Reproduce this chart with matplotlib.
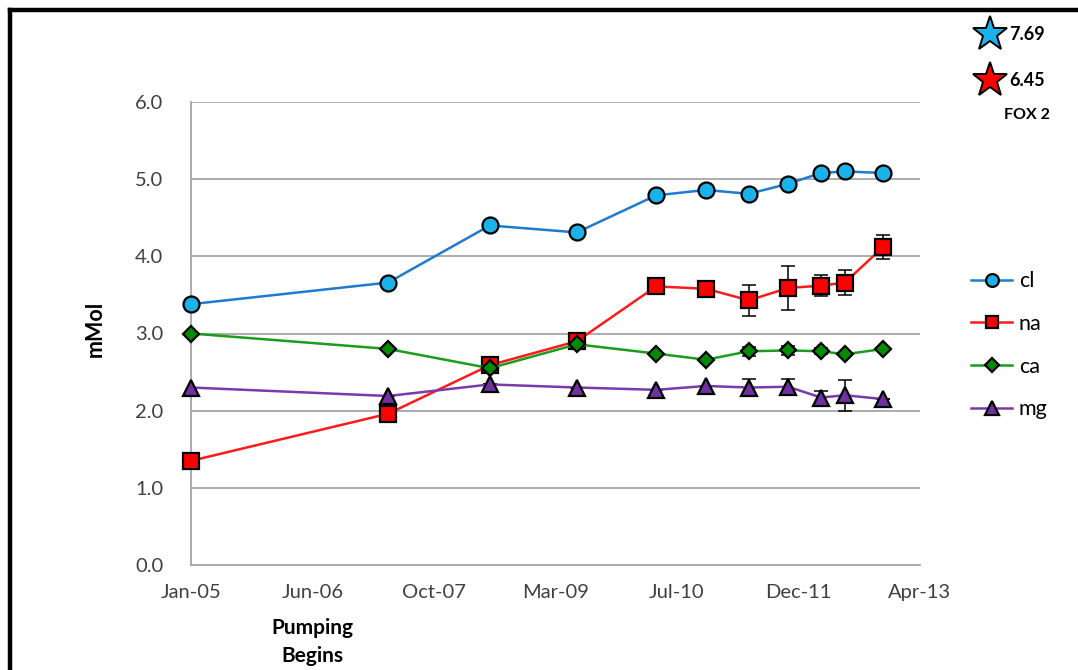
import pandas as pd
import matplotlib.pyplot as plt
import matplotlib.dates as mdates
from matplotlib.lines import Line2D

plt.rcParams['font.family'] = ['Lato', 'DejaVu Sans']

# sampling dates and concentrations (mMol)
dates = ['2005-01-31', '2007-04-22', '2008-06-14', '2009-06-07', '2010-04-29',
         '2010-11-20', '2011-05-16', '2011-10-24', '2012-03-08', '2012-06-14',
         '2012-11-18']
cl = [3.38, 3.66, 4.40, 4.31, 4.79, 4.86, 4.81, 4.94, 5.08, 5.10, 5.08]
na = [1.35, 1.96, 2.59, 2.90, 3.61, 3.58, 3.43, 3.59, 3.62, 3.66, 4.12]
ca = [3.00, 2.80, 2.55, 2.86, 2.74, 2.66, 2.77, 2.78, 2.77, 2.73, 2.80]
mg = [2.30, 2.19, 2.34, 2.30, 2.27, 2.32, 2.30, 2.31, 2.17, 2.20, 2.15]
na_err = [0, 0, 0, 0, 0, 0, 0.20, 0.28, 0.14, 0.16, 0.15]
ca_err = [0, 0, 0, 0, 0, 0, 0.06, 0.06, 0.04, 0, 0]
mg_err = [0, 0, 0, 0, 0, 0, 0.11, 0.10, 0.09, 0.20, 0]

fox_max = [7.69, 6.45]

x = pd.to_datetime(dates)
start = pd.Timestamp('2005-01-31')
ticks = [start + pd.Timedelta(days=500 * k) for k in range(7)]

fig = plt.figure(figsize=(10.78, 6.70), dpi=100)
ax = fig.add_axes([191 / 1078, 1 - 565 / 670, 729 / 1078, 463 / 670])

series = [
    ('cl', cl, None, '#1f7ad0', '#1ab2ea', 'o', 11.5),
    ('na', na, na_err, '#ff1a1a', '#ff0000', 's', 11.5),
    ('ca', ca, ca_err, '#1c9c1c', '#008c00', 'D', 8.5),
    ('mg', mg, mg_err, '#7a3aac', '#7030a0', '^', 12),
]
for name, vals, err, lc, fc, mk, ms in series:
    if err is not None:
        ax.errorbar(x, vals, yerr=err, fmt='none', ecolor='black',
                    elinewidth=1.1, capsize=5, capthick=1.1, zorder=2)
    ax.plot(x, vals, color=lc, lw=1.8, marker=mk, ms=ms, mfc=fc,
            mec='black', mew=1.6, label=name, zorder=3, clip_on=False)

ax.set_xlim(ticks[0], ticks[-1])
ax.set_ylim(0, 6)
ax.set_xticks(ticks)
ax.xaxis.set_major_formatter(mdates.DateFormatter('%b-%y'))
ax.set_yticks([0, 1, 2, 3, 4, 5, 6])
ax.set_yticklabels(['%.1f' % v for v in range(7)])
ax.tick_params(length=0, labelsize=14.5, colors='#404040')
ax.tick_params(axis='x', pad=14)
ax.tick_params(axis='y', pad=20)
ax.grid(axis='y', color='#a6a6a6', lw=1.3)
ax.set_axisbelow(True)
for s in ['top', 'right']:
    ax.spines[s].set_visible(False)
for s in ['left', 'bottom']:
    ax.spines[s].set_color('#a6a6a6')
    ax.spines[s].set_linewidth(1.3)

fig.text(95 / 1078, 1 - 329 / 670, 'mMol', rotation=90, fontsize=15.5,
         fontweight='bold', ha='center', va='center')
fig.text(312 / 1078, 1 - 642 / 670, 'Pumping\nBegins', fontsize=15,
         fontweight='bold', ha='center', va='center', linespacing=1.45)

ax.legend(loc='upper left', bbox_to_anchor=(952 / 1078, 1 - 252 / 670),
          bbox_transform=fig.transFigure, frameon=False, fontsize=15.5,
          handlelength=1.9, labelspacing=1.05, handletextpad=0.3,
          markerscale=0.8)

# star markers with the maximum values
for yy, val, fc in [(34, fox_max[0], '#1ab2ea'), (80, fox_max[1], '#ff0000')]:
    fig.add_artist(Line2D([990 / 1078], [1 - yy / 670], marker='*', ms=26,
                          mfc=fc, mec='black', mew=1.4, ls='none',
                          transform=fig.transFigure))
    fig.text(1009 / 1078, 1 - (yy + 1) / 670, '%.2f' % val, fontsize=13,
             fontweight='bold', va='center', ha='left')
fig.text(1027 / 1078, 1 - 115 / 670, 'FOX 2', fontsize=11.5, fontweight='bold',
         ha='center', va='center')

# outer frame
fig.add_artist(Line2D([9.5 / 1078, 9.5 / 1078], [0, 1 - 10 / 670], color='black',
                      lw=3.2, transform=fig.transFigure, solid_capstyle='projecting'))
fig.add_artist(Line2D([9.5 / 1078, 1], [1 - 10 / 670, 1 - 10 / 670], color='black',
                      lw=3.2, transform=fig.transFigure, solid_capstyle='projecting'))

fig.savefig('out.png', dpi=100)
